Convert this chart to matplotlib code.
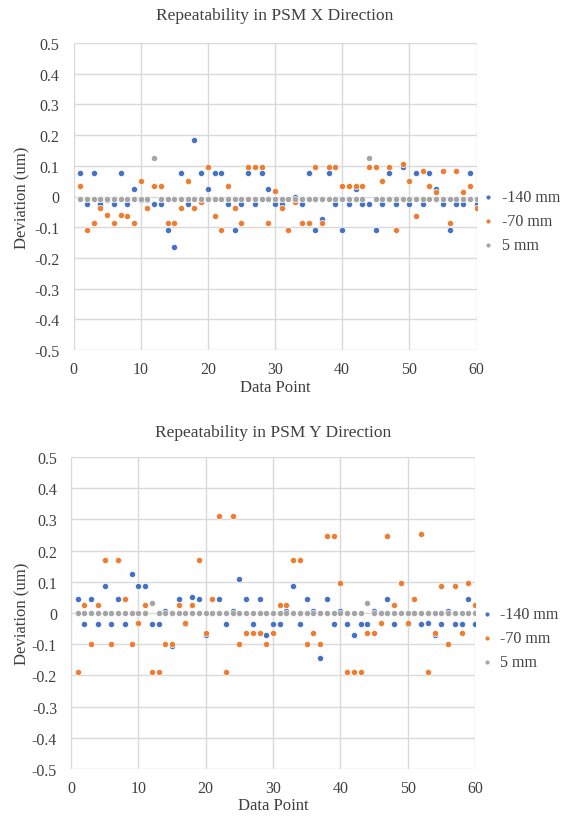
import matplotlib
matplotlib.use("Agg")
import matplotlib.pyplot as plt
import numpy as np

plt.rcParams['font.family'] = ['Liberation Serif', 'DejaVu Serif']

points = list(range(1, 61))
series_names = ["-140 mm", "-70 mm", "5 mm"]
colors = ["#4472C4", "#ED7D31", "#A5A5A5"]

x_dir_140 = [0.077, -0.023, 0.077, -0.023, -0.012, -0.023, 0.077, -0.023, 0.025, -0.012,
             -0.012, -0.023, -0.023, -0.11, -0.166, 0.077, -0.023, 0.183, 0.077, 0.025,
             0.077, 0.077, -0.023, -0.11, -0.023, 0.077, -0.023, 0.077, 0.025, -0.023,
             -0.023, -0.11, 0.0, -0.023, 0.077, -0.11, -0.072, 0.077, -0.023, -0.11,
             -0.023, 0.025, -0.023, -0.023, -0.11, -0.023, 0.077, -0.023, 0.095, -0.023,
             0.077, -0.023, 0.077, 0.025, -0.023, -0.11, -0.023, -0.023, 0.077, -0.023]
x_dir_70 = [0.034, -0.108, -0.086, -0.037, -0.06, -0.086, -0.06, -0.065, -0.086, 0.049,
            -0.037, 0.034, 0.034, -0.086, -0.086, -0.037, 0.049, -0.037, -0.017, 0.095,
            -0.065, -0.108, 0.034, -0.037, -0.086, 0.095, 0.095, 0.095, -0.086, 0.017,
            -0.037, -0.108, -0.017, -0.086, -0.086, 0.095, -0.086, 0.095, 0.095, 0.034,
            0.034, 0.034, 0.034, 0.095, 0.095, 0.049, 0.095, -0.108, 0.107, 0.049,
            -0.065, 0.083, 0.034, 0.016, 0.083, -0.086, 0.083, 0.016, 0.034, -0.037]
x_dir_5 = [-0.007] * 11 + [0.127] + [-0.007] * 31 + [0.127] + [-0.007] * 16

y_dir_140 = [0.044, -0.034, 0.044, -0.034, 0.087, -0.034, 0.044, -0.034, 0.126, 0.087,
             0.087, -0.034, -0.034, 0.006, -0.107, 0.044, -0.034, 0.05, 0.044, -0.07,
             0.0, 0.044, -0.034, 0.006, 0.109, 0.044, -0.034, 0.044, -0.07, -0.034,
             -0.034, 0.006, 0.087, -0.034, 0.044, 0.006, -0.143, 0.044, -0.034, 0.006,
             -0.034, -0.07, -0.034, -0.034, 0.006, 0.0, 0.044, -0.034, 0.095, -0.034,
             0.0, -0.034, -0.031, -0.07, -0.034, 0.006, -0.034, -0.034, 0.044, -0.034]
y_dir_70 = [-0.19, 0.026, -0.1, 0.026, 0.169, -0.1, 0.169, 0.044, -0.1, -0.032,
            0.026, -0.19, -0.19, -0.1, -0.1, 0.026, -0.032, 0.026, 0.169, -0.065,
            0.044, 0.312, -0.19, 0.312, -0.1, -0.065, -0.065, -0.065, -0.1, -0.065,
            0.026, 0.026, 0.169, 0.169, -0.1, -0.065, -0.1, 0.247, 0.247, 0.097,
            -0.19, -0.19, -0.19, -0.065, -0.065, -0.032, 0.247, 0.026, 0.097, -0.032,
            0.044, 0.253, -0.19, -0.065, 0.085, -0.1, 0.085, -0.065, 0.097, 0.026]
y_dir_5 = [0.0] * 11 + [0.032] + [0.0] * 31 + [0.032] + [0.0] * 16

titles = ["Repeatability in PSM X Direction", "Repeatability in PSM Y Direction"]
x_label = "Data Point"
y_label = "Deviation (um)"
y_ticks = [0.5, 0.4, 0.3, 0.2, 0.1, 0.0, -0.1, -0.2, -0.3, -0.4, -0.5]
y_tick_labels = ["0.5", "0.4", "0.3", "0.2", "0.1", "0", "-0.1", "-0.2", "-0.3", "-0.4", "-0.5"]
x_ticks = [0, 10, 20, 30, 40, 50, 60]

W, H = 569, 820
fig = plt.figure(figsize=(W / 100, H / 100), dpi=100)

text_color = "#404040"
grid_color = "#D9D9D9"

panels = [
    dict(rect=(73.5, 44, 476.5, 351), data=[x_dir_140, x_dir_70, x_dir_5], title=titles[0],
         title_y=16, xlabel_y=388),
    dict(rect=(71, 458, 475, 770), data=[y_dir_140, y_dir_70, y_dir_5], title=titles[1],
         title_y=433, xlabel_y=806),
]

for p in panels:
    l, t, r, b = p["rect"]
    ax = fig.add_axes([l / W, 1 - b / H, (r - l) / W, (b - t) / H])
    for vals, name, c in zip(p["data"], series_names, colors):
        ax.scatter(points, vals, s=20, color=c, edgecolors="white", linewidths=0.5,
                   label=name, zorder=3)
    ax.set_xlim(0, 60)
    ax.set_ylim(-0.5, 0.5)
    ax.set_xticks(x_ticks)
    ax.set_yticks(y_ticks)
    ax.set_yticklabels(y_tick_labels)
    ax.grid(True, color=grid_color, linewidth=1.0, zorder=0)
    ax.set_axisbelow(True)
    for s in ax.spines.values():
        s.set_visible(False)
    ax.tick_params(length=0, labelsize=11.5, labelcolor=text_color)
    ax.tick_params(axis="y", pad=10)
    ax.tick_params(axis="x", pad=8)
    fig.text((l + r) / 2 / W, 1 - p["title_y"] / H, p["title"], ha="center", va="center",
             fontsize=12.5, color=text_color)
    fig.text((l + r) / 2 / W, 1 - p["xlabel_y"] / H, x_label, ha="center", va="center",
             fontsize=12, color=text_color)
    fig.text(22 / W, 1 - ((t + b) / 2) / H, y_label, ha="center", va="center",
             rotation=90, fontsize=12, color=text_color)
    leg = ax.legend(loc="center left", bbox_to_anchor=(0.985, 0.42), frameon=False,
                    fontsize=11.5, markerscale=0.8, handletextpad=0.35, labelspacing=0.5,
                    borderaxespad=0.2, handlelength=1.0)
    for txt in leg.get_texts():
        txt.set_color(text_color)

fig.savefig("out.png", dpi=100)
